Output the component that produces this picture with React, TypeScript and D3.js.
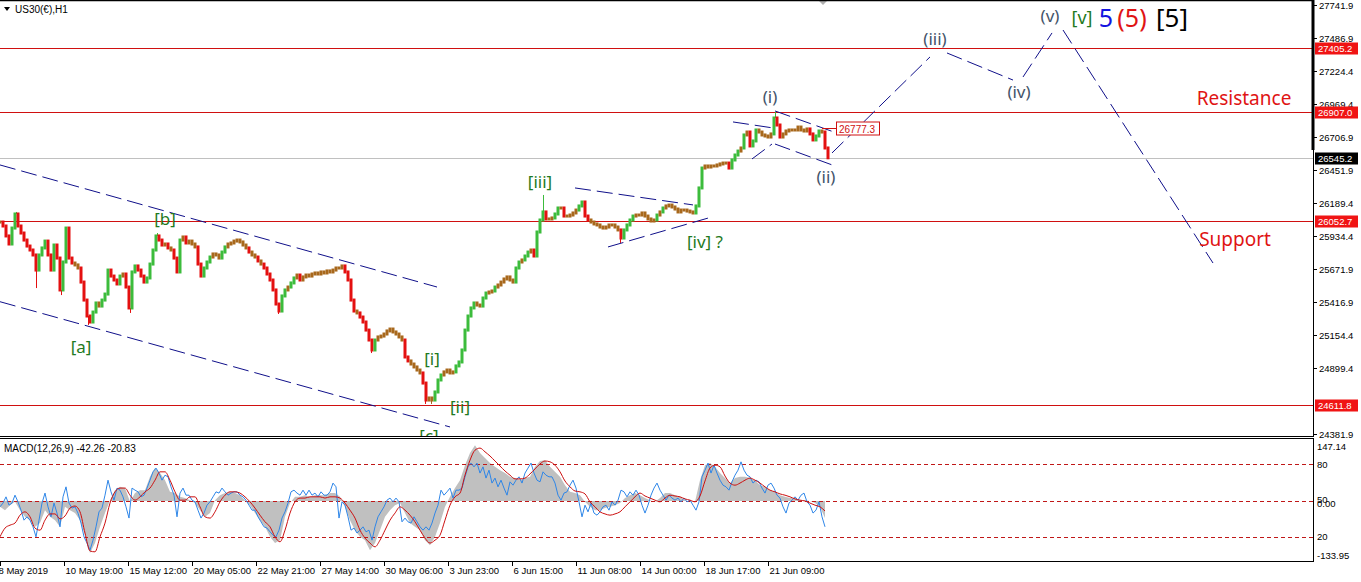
import React, { useEffect, useRef } from "react";
import * as d3 from "d3";

// ---------------- DATA ----------------
// Price closes, one value per 3 hourly bars (US30 H1)
const BAR_STEP = 3;
const closes = [
  26042, 26011, 25933, 25870, 25995, 26105, 26011, 25956, 25901, 25854,
  25823, 25784, 25666, 25784, 25839, 25893, 25784, 25666, 25862, 25760,
  25510, 25729, 25995, 25760, 25721, 25706, 25682, 25572, 25431, 25306,
  25259, 25337, 25408, 25384, 25431, 25478, 25666, 25619, 25588, 25557,
  25619, 25635, 25533, 25369, 25651, 25698, 25666, 25619, 25572, 25604,
  25713, 25823, 25933, 25901, 25862, 25870, 25839, 25823, 25760, 25651,
  25901, 25925, 25878, 25893, 25870, 25847, 25713, 25619, 25682, 25729,
  25768, 25792, 25784, 25760, 25807, 25847, 25870, 25878, 25893, 25901,
  25886, 25862, 25839, 25807, 25784, 25768, 25737, 25713, 25682, 25635,
  25588, 25510, 25400, 25345, 25463, 25510, 25533, 25565, 25604, 25627,
  25588, 25612, 25627, 25619, 25635, 25643, 25635, 25651, 25643, 25659,
  25651, 25666, 25682, 25682, 25698, 25651, 25588, 25431, 25345, 25330,
  25298, 25259, 25196, 25118, 25040, 25118, 25142, 25149, 25165, 25189,
  25204, 25181, 25165, 25142, 25118, 24985, 24954, 24930, 24907, 24883,
  24860, 24781, 24648, 24664, 24648, 24711, 24805, 24844, 24868, 24883,
  24860, 24868, 24915, 24946, 25040, 25196, 25306, 25369, 25408, 25392,
  25384, 25447, 25486, 25494, 25502, 25533, 25549, 25572, 25596, 25612,
  25588, 25572, 25682, 25729, 25745, 25776, 25807, 25823, 25776, 25964,
  26058, 26121, 26066, 26066, 26074, 26105, 26152, 26152, 26089, 26089,
  26097, 26113, 26136, 26168, 26199, 26089, 26058, 26042, 26027, 26019,
  26003, 25995, 26003, 26019, 26019, 26003, 25980, 25917, 25980, 26019,
  26058, 26089, 26097, 26097, 26113, 26089, 26066, 26050, 26058, 26097,
  26121, 26152, 26168, 26175, 26160, 26144, 26121, 26136, 26136, 26128,
  26121, 26113, 26168, 26309, 26465, 26481, 26473, 26481, 26481, 26489,
  26497, 26504, 26504, 26465, 26528, 26567, 26598, 26622, 26724, 26747,
  26638, 26677, 26763, 26747, 26724, 26716, 26708, 26732, 26857, 26802,
  26708, 26732, 26755, 26763, 26763, 26763, 26786, 26763, 26755, 26771,
  26732, 26685, 26716, 26755, 26747, 26622, 26545.2,
];

// Notable wick extremes: [hour index, price]
const spikeHours = [16, 36, 61, 88, 130, 157, 278, 371, 425, 431, 543, 620, 775];
const spikePrices = [26121, 25525, 25470, 25236, 25330, 25956, 25322, 25016, 24617, 24617, 26254, 25878, 26904];

const priceTicks = [27741.9, 27486.9, 27224.4, 26969.4, 26706.9, 26451.9, 26189.4, 25934.4, 25671.9, 25416.9, 25154.4, 24899.4, 24381.9];
const levelPrices = [27405.2, 26907.0, 26052.7, 24611.8];
const currentPrice = 26545.2;
const markedPrice = 26777.3;

const timeLabels = ["8 May 2019", "10 May 19:00", "15 May 12:00", "20 May 05:00", "22 May 21:00", "27 May 14:00", "30 May 06:00", "3 Jun 23:00", "6 Jun 15:00", "11 Jun 08:00", "14 Jun 00:00", "18 Jun 17:00", "21 Jun 09:00"];
const timeLabelHours = [0, 64, 128, 192, 256, 320, 384, 448, 512, 576, 640, 704, 768];

// MACD (grey histogram = main, red = signal) every 5 bars; blue fast line every 3 bars
const MACD_STEP = 5;
const macdMain = [
  -14, -22, -10, -2, -22, -38, -46, -62, -53, -22,
  -38, -46, -62, -14, -22, -29, -46, -82, -125, -101,
  -62, -29, 2, 26, 34, 31, -2, 19, 26, 26,
  58, 79, 67, 50, 22, 19, 10, 7, 2, -5,
  -22, -38, -29, 2, 14, 19, 22, 19, 14, 2,
  -10, -29, -46, -62, -86, -101, -94, -38, -5, 10,
  10, 14, 10, 14, 14, 14, 19, 19, 10, -14,
  -46, -70, -86, -94, -118, -101, -70, -38, -22, -10,
  -5, -29, -53, -62, -70, -94, -106, -86, -53, -14,
  10, 31, 50, 86, 115, 134, 115, 103, 91, 82,
  74, 67, 58, 55, 50, 55, 58, 82, 96, 98,
  82, 70, 58, 38, 22, 19, 14, -2, -14, -22,
  -22, -17, -14, -10, -5, 7, 14, 19, 14, 7,
  2, -2, 7, 19, 19, 14, 10, 2, -2, -2,
  50, 86, 91, 82, 67, 55, 43, 55, 58, 58,
  55, 50, 38, 34, 26, 22, 14, 10, 7, 7,
  2, 2, 0, -5, -14, -41,
];
const macdSignal = [
  -86, -65, -58, -53, -34, -26, -38, -65, -70, -46,
  -31, -31, -43, -36, -17, -12, -26, -77, -120, -122,
  -86, -53, -5, 22, 31, 31, 14, 2, 10, 22,
  31, 50, 70, 70, 50, 22, 2, 2, 10, 10,
  -14, -38, -41, -26, -2, 14, 22, 22, 19, 10,
  -2, -17, -34, -50, -62, -86, -98, -70, -29, -2,
  7, 7, 10, 10, 10, 7, 10, 10, 7, -5,
  -22, -41, -70, -89, -101, -110, -94, -70, -46, -29,
  -14, -22, -34, -50, -70, -89, -101, -94, -82, -46,
  -10, 10, 19, 62, 98, 122, 127, 118, 108, 96,
  84, 72, 62, 53, 53, 55, 65, 77, 89, 96,
  94, 86, 70, 48, 34, 24, 22, 17, -2, -14,
  -26, -31, -34, -31, -26, -14, -2, 10, 19, 12,
  7, 2, -2, 7, 14, 12, 10, 5, 2, -2,
  12, 48, 79, 86, 82, 60, 43, 38, 43, 50,
  55, 50, 43, 34, 26, 22, 17, 14, 10, 5,
  2, 0, -5, -10, -14, -24,
];
const FAST_STEP = 3;
const macdFast = [
  -14, -5, 10, -10, -5, 14, -2, -22, -46, -38,
  -46, -62, -86, -46, -5, 19, -14, -38, -5, -29,
  -62, 10, 34, -5, -17, -14, -29, -53, -86, -101,
  -118, -94, -62, -26, -17, 14, 50, 22, 2, 31,
  26, 10, -14, -41, 31, 26, 22, 10, 14, 31,
  50, 70, 79, 67, 50, 62, 58, 34, 14, -38,
  19, 31, 14, 14, 2, -2, -22, -41, -29, -10,
  -2, 10, 22, 19, 31, 22, 14, 19, 22, 22,
  14, 10, 2, -10, -22, -22, -38, -50, -62, -65,
  -74, -82, -86, -70, -41, -26, -5, 22, 26, 19,
  14, 26, 14, 26, 14, 19, 10, 22, 14, 14,
  22, 43, 34, -41, -2, -10, -38, -70, -65, -77,
  -70, -62, -74, -70, -94, -62, -38, -26, -14, 2,
  7, -2, 7, -2, -50, -41, -50, -53, -38, -50,
  -62, -70, -62, -70, -53, -29, -10, 26, 14, 22,
  31, 7, 26, 26, 31, 58, 82, 91, 82, 91,
  67, 82, 55, 74, 43, 55, 34, 50, 31, 14,
  46, 38, 50, 58, 43, 67, 79, 91, 67, 50,
  46, 70, 62, 58, 58, 43, 14, 2, 19, 22,
  38, 50, 31, -2, -38, -10, -26, -5, -29, -34,
  -26, -14, -10, -22, -2, -10, 2, 26, 22, 10,
  22, 14, 26, 14, -10, -29, -10, 14, 31, 43,
  26, 14, 2, 14, 7, 2, 7, -2, 7, -2,
  2, -10, -22, -2, 58, 74, 91, 67, 86, 67,
  50, 38, 34, 26, 46, 62, 74, 94, 74, 62,
  58, 43, 50, 46, 31, 19, 38, 43, 31, 14,
  7, -14, -29, -5, 2, 10, 2, 14, 19, -2,
  -10, -29, -22, -2, -38, -62,
];
const macdMax = 147.14;
const macdMin = -133.95;
const subLevels = [80, 50, 20];

// Trend lines drawn on the chart: [hour1, price1, hour2, price2]
const trendLines = [
  [0, 26489, 437, 25533],
  [0, 25418, 450, 24437],
  [575, 26309, 693, 26176],
  [608, 25847, 712, 26082],
  [733, 26826, 773, 26779],
  [752, 26536, 772, 26653],
  [775, 26912, 834, 26747],
  [775, 26653, 835, 26481],
  [832, 26583, 930, 27335],
  [947, 27366, 1013, 27154],
  [1023, 27178, 1052, 27523],
  [1063, 27546, 1213, 25721],
];

// Wave labels: text, hour, price
const waveTexts = ["[a]", "[b]", "[c]", "[i]", "[ii]", "[iii]", "[iv] ?"];
const waveHours = [81, 165, 429, 432, 460, 540, 705];
const wavePrices = [25071, 26066, 24370, 24977, 24601, 26356, 25893];
const minorTexts = ["(i)", "(ii)", "(iii)", "(iv)", "(v)"];
const minorHours = [770, 826, 935, 1019, 1050];
const minorPrices = [27029, 26395, 27476, 27068, 27656];

// ---------------- LAYOUT ----------------
const W = 1361;
const H = 582;
const RIGHT = 1313;
const MAIN_BOTTOM = 436.5;
const SUB_TOP = 439;
const SUB_BOTTOM = 561;
const AXIS_FONT = "'Liberation Sans', Arial, sans-serif";
const LABEL_FONT = "'Noto Sans', 'Open Sans', sans-serif";

export default function App() {
  const ref = useRef<SVGSVGElement>(null);

  useEffect(() => {
    const svg = d3.select(ref.current);
    svg.selectAll("*").remove();

    const x = d3.scaleLinear().domain([0, RIGHT]).range([0, RIGHT]);
    const y = d3.scaleLinear().domain([24381.9, 27741.9]).range([434, 5]);
    const ym = d3.scaleLinear().domain([macdMin, macdMax]).range([556.8, 439.7]);
    const yl = d3.scaleLinear().domain([0, 100]).range([561, 440]);

    svg.append("rect").attr("width", W).attr("height", H).attr("fill", "#fff");

    const defs = svg.append("defs");
    defs.append("clipPath").attr("id", "mainClip").append("rect")
      .attr("x", 0).attr("y", 0).attr("width", RIGHT).attr("height", MAIN_BOTTOM);
    defs.append("clipPath").attr("id", "subClip").append("rect")
      .attr("x", 0).attr("y", SUB_TOP).attr("width", RIGHT).attr("height", SUB_BOTTOM - SUB_TOP);

    const main = svg.append("g").attr("clip-path", "url(#mainClip)");

    // horizontal level lines
    main.selectAll("line.lvl").data(levelPrices).enter().append("line")
      .attr("x1", 0).attr("x2", RIGHT)
      .attr("y1", (d) => Math.round(y(d)) + 0.5).attr("y2", (d) => Math.round(y(d)) + 0.5)
      .attr("stroke", "#d01010").attr("stroke-width", 1);
    main.append("line")
      .attr("x1", 0).attr("x2", RIGHT)
      .attr("y1", Math.round(y(currentPrice)) + 0.5).attr("y2", Math.round(y(currentPrice)) + 0.5)
      .attr("stroke", "#c0c0c0").attr("stroke-width", 1);

    // candles
    const GREEN = "#3cbc3c";
    const RED = "#e41010";
    const BROWN = "#a8681c";
    const colorOf = (i: number) => {
      const o = i === 0 ? closes[0] : closes[i - 1];
      const d = closes[i] - o;
      return d >= 30 ? GREEN : d <= -30 ? RED : BROWN;
    };
    const bars = main.append("g");
    spikeHours.forEach((h, k) => {
      const i = Math.round(h / BAR_STEP);
      const o = i === 0 ? closes[0] : closes[i - 1];
      const c = closes[i];
      const p = spikePrices[k];
      const edge = p > Math.max(o, c) ? Math.max(o, c) : Math.min(o, c);
      bars.append("line")
        .attr("x1", Math.round(x(h)) + 0.5).attr("x2", Math.round(x(h)) + 0.5)
        .attr("y1", y(p)).attr("y2", y(edge))
        .attr("stroke", colorOf(i)).attr("stroke-width", 1);
    });
    closes.forEach((c, i) => {
      const o = i === 0 ? c : closes[i - 1];
      const top = y(Math.max(o, c));
      const bot = y(Math.min(o, c));
      const cx = x(i * BAR_STEP);
      bars.append("rect")
        .attr("x", cx - 1.5).attr("y", top - 1.5)
        .attr("width", 3).attr("height", Math.max(3, bot - top + 3))
        .attr("fill", colorOf(i));
    });

    // trend / projection lines
    main.selectAll("line.tl").data(trendLines).enter().append("line")
      .attr("x1", (d) => x(d[0])).attr("y1", (d) => y(d[1]))
      .attr("x2", (d) => x(d[2])).attr("y2", (d) => y(d[3]))
      .attr("stroke", "#10108a").attr("stroke-width", 1)
      .attr("stroke-dasharray", "16,6");

    // marked price tag
    const my = Math.round(y(markedPrice)) + 0.5;
    main.append("line").attr("x1", x(822)).attr("x2", x(836)).attr("y1", my).attr("y2", my)
      .attr("stroke", "#d01010");
    main.append("rect").attr("x", x(836) + 0.5).attr("y", my - 6.5).attr("width", 43).attr("height", 13)
      .attr("fill", "#fff").attr("stroke", "#d01010");
    main.append("text").attr("x", x(836) + 3).attr("y", my + 4)
      .attr("font-family", AXIS_FONT).attr("font-size", 10).attr("fill", "#d01010")
      .text(markedPrice.toFixed(1));

    // wave labels
    waveTexts.forEach((t, i) => {
      main.append("text").attr("x", x(waveHours[i])).attr("y", y(wavePrices[i]))
        .attr("text-anchor", "middle").attr("dominant-baseline", "central")
        .attr("font-family", LABEL_FONT).attr("font-size", 17).attr("fill", "#1f7a22")
        .text(t);
    });
    minorTexts.forEach((t, i) => {
      main.append("text").attr("x", x(minorHours[i])).attr("y", y(minorPrices[i]))
        .attr("text-anchor", "middle").attr("dominant-baseline", "central")
        .attr("font-family", LABEL_FONT).attr("font-size", 17).attr("fill", "#44546a")
        .text(t);
    });
    const degree = [
      { t: "[v]", h: 1082, c: "#1f7a22", s: 18 },
      { t: "5", h: 1106, c: "#1414e0", s: 25 },
      { t: "(5)", h: 1132, c: "#e01414", s: 25 },
      { t: "[5]", h: 1172, c: "#000000", s: 26 },
    ];
    degree.forEach((d) => {
      main.append("text").attr("x", x(d.h)).attr("y", y(27648))
        .attr("text-anchor", "middle").attr("dominant-baseline", "central")
        .attr("font-family", LABEL_FONT).attr("font-size", d.s).attr("fill", d.c)
        .text(d.t);
    });
    main.append("text").attr("x", x(1244)).attr("y", y(27013))
      .attr("text-anchor", "middle").attr("dominant-baseline", "central")
      .attr("font-family", LABEL_FONT).attr("font-size", 19).attr("fill", "#e01414")
      .text("Resistance");
    main.append("text").attr("x", x(1235)).attr("y", y(25909))
      .attr("text-anchor", "middle").attr("dominant-baseline", "central")
      .attr("font-family", LABEL_FONT).attr("font-size", 19).attr("fill", "#e01414")
      .text("Support");

    // symbol title
    svg.append("path").attr("d", "M4,7 L10,7 L7,11 Z").attr("fill", "#000");
    svg.append("text").attr("x", 15).attr("y", 13)
      .attr("font-family", AXIS_FONT).attr("font-size", 10).attr("fill", "#000")
      .text("US30(€),H1");
    svg.append("path").attr("d", "M818,0 L828,0 L823,5 Z").attr("fill", "#b0b0b0");

    // ---------- MACD subwindow ----------
    const sub = svg.append("g").attr("clip-path", "url(#subClip)");
    const area = d3.area<number>()
      .x((_, i) => x(i * MACD_STEP))
      .y0(ym(0)).y1((d) => ym(d));
    sub.append("path").datum(macdMain).attr("d", area).attr("fill", "#c0c0c0");
    sub.selectAll("line.sl").data(subLevels).enter().append("line")
      .attr("x1", 0).attr("x2", RIGHT)
      .attr("y1", (d) => Math.round(yl(d)) + 0.5).attr("y2", (d) => Math.round(yl(d)) + 0.5)
      .attr("stroke", "#c01818").attr("stroke-dasharray", "4,3");
    const fastLine = d3.line<number>().x((_, i) => x(i * FAST_STEP)).y((d) => ym(d));
    sub.append("path").datum(macdFast).attr("d", fastLine)
      .attr("fill", "none").attr("stroke", "#2e86e8").attr("stroke-width", 1);
    const sigLine = d3.line<number>().x((_, i) => x(i * MACD_STEP)).y((d) => ym(d)).curve(d3.curveMonotoneX);
    sub.append("path").datum(macdSignal).attr("d", sigLine)
      .attr("fill", "none").attr("stroke", "#cc1010").attr("stroke-width", 1);
    svg.append("text").attr("x", 4).attr("y", 452)
      .attr("font-family", AXIS_FONT).attr("font-size", 10).attr("fill", "#000")
      .text("MACD(12,26,9) -42.26 -20.83");

    // ---------- frames ----------
    const frame = svg.append("g").attr("stroke", "#000").attr("fill", "none");
    frame.append("line").attr("x1", 0).attr("x2", RIGHT + 1).attr("y1", 0.5).attr("y2", 0.5).attr("stroke-width", 1.5);
    frame.append("line").attr("x1", 0).attr("x2", RIGHT + 1).attr("y1", MAIN_BOTTOM).attr("y2", MAIN_BOTTOM);
    frame.append("line").attr("x1", 0).attr("x2", RIGHT + 1).attr("y1", SUB_TOP - 0.5).attr("y2", SUB_TOP - 0.5);
    frame.append("line").attr("x1", 0).attr("x2", RIGHT + 1).attr("y1", SUB_BOTTOM + 0.5).attr("y2", SUB_BOTTOM + 0.5);
    frame.append("line").attr("x1", RIGHT + 0.5).attr("x2", RIGHT + 0.5).attr("y1", 0).attr("y2", MAIN_BOTTOM);
    frame.append("line").attr("x1", RIGHT + 0.5).attr("x2", RIGHT + 0.5).attr("y1", SUB_TOP).attr("y2", SUB_BOTTOM);
    frame.append("line").attr("x1", RIGHT).attr("x2", RIGHT).attr("y1", 0).attr("y2", 150).attr("stroke-width", 3);

    // ---------- price axis ----------
    const axis = svg.append("g");
    priceTicks.forEach((p) => {
      const py = Math.round(y(p)) + 0.5;
      axis.append("line").attr("x1", RIGHT + 1).attr("x2", RIGHT + 4).attr("y1", py).attr("y2", py).attr("stroke", "#000");
      axis.append("text").attr("x", RIGHT + 6).attr("y", py).attr("dominant-baseline", "central")
        .attr("font-family", AXIS_FONT).attr("font-size", 9.5).attr("fill", "#000")
        .text(p.toFixed(1));
    });
    const tag = (p: number, fill: string) => {
      const py = Math.round(y(p)) + 0.5;
      axis.append("rect").attr("x", RIGHT + 2).attr("y", py - 6).attr("width", 43).attr("height", 12).attr("fill", fill);
      axis.append("text").attr("x", RIGHT + 5).attr("y", py).attr("dominant-baseline", "central")
        .attr("font-family", AXIS_FONT).attr("font-size", 9.5).attr("fill", "#fff")
        .text(p.toFixed(1));
    };
    levelPrices.forEach((p) => tag(p, "#f01414"));
    tag(currentPrice, "#000");

    // MACD axis labels
    const subLbl = (txt: string, yy: number) => {
      axis.append("text").attr("x", RIGHT + 4).attr("y", yy).attr("dominant-baseline", "central")
        .attr("font-family", AXIS_FONT).attr("font-size", 9.5).attr("fill", "#000").text(txt);
    };
    subLbl(macdMax.toFixed(2), 446);
    subLevels.forEach((l) => subLbl(String(l), yl(l) - (l === 50 ? 1.5 : 0)));
    subLbl((0).toFixed(2), ym(0) + 2.5);
    subLbl(macdMin.toFixed(2), 555);

    // ---------- time axis ----------
    timeLabels.forEach((t, i) => {
      const tx = Math.round(x(timeLabelHours[i])) + 0.5;
      axis.append("line").attr("x1", tx).attr("x2", tx).attr("y1", SUB_BOTTOM + 1).attr("y2", SUB_BOTTOM + 5).attr("stroke", "#000");
      axis.append("text").attr("x", tx + (i === 0 ? -2 : 1)).attr("y", 574)
        .attr("font-family", AXIS_FONT).attr("font-size", 9.5).attr("fill", "#000")
        .text(t);
    });
  }, []);

  return (
    <svg
      ref={ref}
      width={W}
      height={H}
      style={{ position: "absolute", left: 0, top: 0, display: "block", background: "#fff" }}
    />
  );
}
